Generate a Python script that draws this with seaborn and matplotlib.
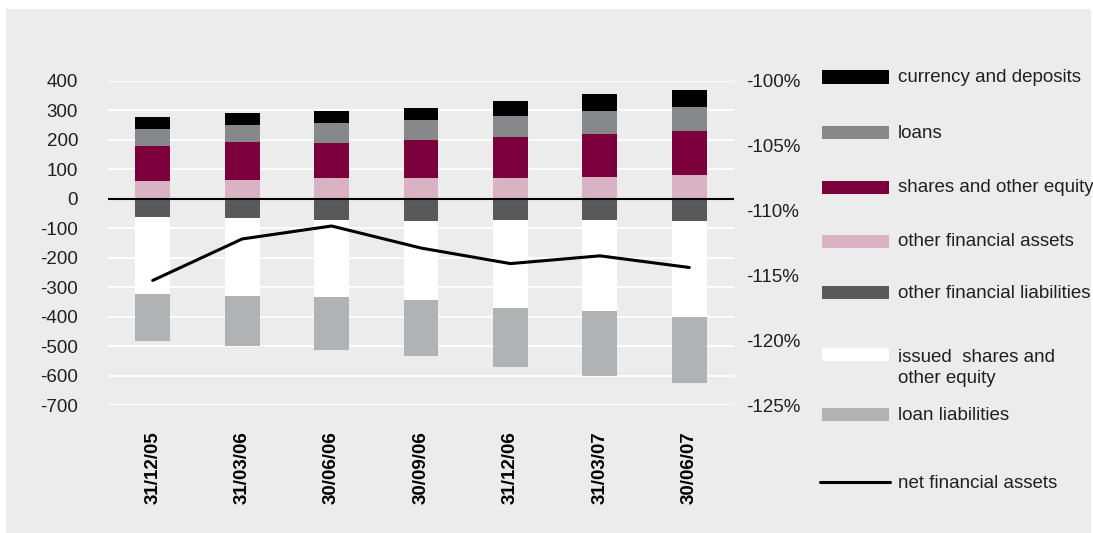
import numpy as np
import pandas as pd
import matplotlib.pyplot as plt
import seaborn as sns
from matplotlib.patches import Rectangle
from matplotlib.lines import Line2D

# Data
dates = ["31/12/05", "31/03/06", "30/06/06", "30/09/06", "31/12/06", "31/03/07", "30/06/07"]

currency_deposits = [41, 40, 40, 41, 51, 58, 57]
loans = [58, 58, 68, 68, 71, 78, 82]
shares_equity = [119, 129, 120, 130, 140, 146, 150]
other_fin_assets = [60, 64, 70, 70, 70, 74, 80]

other_fin_liab = [-62, -66, -73, -76, -73, -73, -76]
issued_shares = [-261, -264, -260, -267, -298, -308, -325]
loan_liab = [-160, -170, -180, -190, -201, -220, -224]

net_fin_assets = [-115.4, -112.2, -111.2, -112.9, -114.1, -113.5, -114.4]

# colours
C_CURRENCY = "#000000"
C_LOANS = "#87888a"
C_SHARES = "#7c003c"
C_OFA = "#d9b2c4"
C_OFL = "#59595b"
C_ISSUED = "#ffffff"
C_LOANLIAB = "#b1b2b4"
BG = "#ececec"
TXT = "#231f20"

W, H = 1093, 533


def fx(x):
    return x / W


def fy(y):
    return 1 - y / H


def main():
    sns.set_theme(style="white")
    plt.rcParams["font.family"] = ["Liberation Sans", "DejaVu Sans"]
    plt.rcParams["font.size"] = 13.5
    plt.rcParams["axes.unicode_minus"] = False

    df = pd.DataFrame({"date": dates})
    # positive stack, bottom -> top
    pos = [("other_fin_assets", other_fin_assets, C_OFA),
           ("shares_equity", shares_equity, C_SHARES),
           ("loans", loans, C_LOANS),
           ("currency_deposits", currency_deposits, C_CURRENCY)]
    # negative stack, top -> bottom
    neg = [("other_fin_liab", other_fin_liab, C_OFL),
           ("issued_shares", issued_shares, C_ISSUED),
           ("loan_liab", loan_liab, C_LOANLIAB)]

    for stack in (pos, neg):
        run = np.zeros(len(dates))
        for name, vals, _ in stack:
            run = run + np.array(vals)
            df[name + "_cum"] = run

    fig = plt.figure(figsize=(W / 100, H / 100), dpi=100)
    fig.patch.set_facecolor("white")
    fig.patches.append(Rectangle((fx(6), 0.0), fx(1085), 1 - 9 / H,
                                 transform=fig.transFigure, facecolor=BG,
                                 edgecolor="none", zorder=-10))

    ax = fig.add_axes([fx(108), 1 - 405 / H, fx(626), 324.3 / H])
    ax.set_facecolor(BG)

    # draw cumulative layers outermost first so inner ones sit on top
    for stack in (pos, neg):
        for name, _, color in reversed(stack):
            sns.barplot(data=df, x="date", y=name + "_cum", order=dates,
                        color=color, saturation=1, width=0.39,
                        errorbar=None, linewidth=0, ax=ax)

    ax.set_ylim(-700, 400)
    ax.set_yticks(np.arange(-700, 401, 100))
    ax.yaxis.grid(True, color="white", linewidth=1.3)
    ax.xaxis.grid(False)
    ax.set_axisbelow(True)
    ax.axhline(0, color="black", linewidth=1.5, zorder=5)

    ax2 = ax.twinx()
    sns.lineplot(x=np.arange(len(dates)), y=net_fin_assets, ax=ax2,
                 color="black", linewidth=2.2)
    ax2.set_ylim(-125, -100)
    ax2.set_yticks(np.arange(-125, -99, 5))
    ax2.set_yticklabels([f"{v}%" for v in range(-125, -99, 5)])

    ax.set_xlim(-0.5, 6.5)
    ax.set_xticks(range(len(dates)))
    ax.set_xticklabels(dates, rotation=90, fontweight="bold", color="black")

    for a in (ax, ax2):
        for s in a.spines.values():
            s.set_visible(False)
        a.set_xlabel("")
        a.set_ylabel("")
    ax.tick_params(axis="y", length=0, pad=21.5, labelsize=13.5, labelcolor=TXT)
    ax.tick_params(axis="x", length=0, pad=19, labelsize=13.5)
    ax2.tick_params(axis="y", length=0, pad=8.5, labelsize=13.5, labelcolor=TXT)

    # legend on the right
    entries = [("currency and deposits", C_CURRENCY, 77, 77),
               ("loans", C_LOANS, 133, 134),
               ("shares and other equity", C_SHARES, 187, 187),
               ("other financial assets", C_OFA, 242, 242),
               ("other financial liabilities", C_OFL, 292, 293),
               ("issued  shares and\nother equity", C_ISSUED, 354.5, 368),
               ("loan liabilities", C_LOANLIAB, 414, 415)]
    for label, color, yp, yt in entries:
        fig.patches.append(Rectangle((fx(822), fy(yp + 6.5)), fx(67), 13 / H,
                                     transform=fig.transFigure,
                                     facecolor=color, edgecolor="none"))
        fig.text(fx(898), fy(yt), label, va="center", ha="left",
                 fontsize=13.5, color=TXT, linespacing=1.3)
    fig.lines.append(Line2D([fx(820), fx(890)], [fy(482), fy(482)],
                            transform=fig.transFigure, color="black",
                            linewidth=2.2))
    fig.text(fx(898), fy(483), "net financial assets", va="center",
             ha="left", fontsize=13.5, color=TXT)

    fig.savefig("out.png", dpi=100)
    plt.close(fig)


if __name__ == "__main__":
    main()
